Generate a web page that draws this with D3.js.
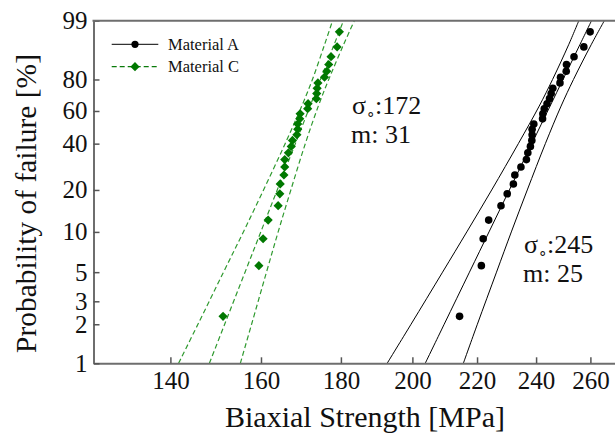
<!DOCTYPE html>
<html>
<head>
<meta charset="utf-8">
<script src="https://cdn.jsdelivr.net/npm/d3@7"></script>
<style>
  body { margin: 0; background: #fff; }
  svg { display: block; font-family: "Liberation Serif", serif; }
</style>
</head>
<body>
<div id="chart-area"></div>
<script>
// probability of failure (%) for each ranked specimen
var probs = [2.3, 5.6, 8.9, 12.2, 15.5, 18.8, 22.0, 25.3, 28.6, 31.9, 35.2, 38.5, 41.8, 45.1, 48.4,
             51.6, 54.9, 58.2, 61.5, 64.8, 68.1, 71.4, 74.7, 78.0, 81.3, 84.5, 87.8, 91.1, 94.4, 97.7];

// biaxial strength (MPa)
var strengthA = [214.4, 221.4, 222.0, 223.8, 227.9, 230.0, 232.1, 232.6, 234.7, 236.6, 237.1, 238.0, 238.5, 238.6, 238.6,
                 239.2, 242.3, 242.4, 242.9, 243.9, 244.8, 245.4, 246.0, 248.6, 248.8, 250.9, 251.0, 253.8, 257.5, 259.9];
var strengthC = [151.3, 159.5, 160.5, 161.7, 164.1, 164.5, 164.6, 165.5, 165.7, 165.7, 166.6, 167.3, 167.6, 168.7, 168.9,
                 168.9, 169.4, 169.5, 171.4, 171.5, 173.6, 173.7, 173.8, 174.0, 175.7, 176.3, 176.8, 177.4, 179.0, 179.6];

// weibull fit parameters
var sigma0A = 245, mA = 25;
var sigma0C = 172, mC = 31;

// confidence bounds read at these probabilities
var boundP = [1, 2, 5, 10, 20, 40, 63.2, 80, 95, 99];
var aLower = [192.7, 199.6, 209.1, 216.7, 224.8, 233.8, 241.1, 245.9, 251.8, 255.6];
var aUpper = [215.6, 220.1, 226.4, 231.4, 236.9, 243.3, 249.0, 253.6, 260.3, 265.4];
var cLower = [141.7, 145.8, 151.4, 155.9, 160.6, 165.8, 169.9, 172.6, 175.7, 177.8];
var cUpper = [155.2, 157.8, 161.3, 164.1, 167.2, 170.8, 174.1, 176.8, 180.7, 183.6];

var xTicks = [140, 160, 180, 200, 220, 240, 260];
var yTicks = [1, 2, 3, 5, 10, 20, 40, 60, 80, 99];

var svgWidth = 615, svgHeight = 438;
var plotLeft = 93.5, plotTop = 20.7, plotBottom = 363.3;

var svg = d3.select("#chart-area").append("svg")
  .attr("width", svgWidth)
  .attr("height", svgHeight);

// weibull probability transform
function wb(p) { return Math.log(-Math.log(1 - p / 100)); }

var x = d3.scaleLog()
  .domain([125, 270])
  .range([plotLeft, 616]);

var y = d3.scaleLinear()
  .domain([wb(1), wb(99)])
  .range([plotBottom, plotTop]);

svg.append("clipPath").attr("id", "clip")
  .append("rect")
  .attr("x", plotLeft).attr("y", plotTop)
  .attr("width", svgWidth - plotLeft).attr("height", plotBottom - plotTop);

var plot = svg.append("g").attr("clip-path", "url(#clip)");

var line = d3.line()
  .x(d => x(d[0]))
  .y(d => y(wb(d[1])))
  .curve(d3.curveCatmullRom);

function fitLine(s0, m) {
  return boundP.map(p => [s0 * Math.pow(-Math.log(1 - p / 100), 1 / m), p]);
}

var green = "#2f9a2f";

// Material A lines
[aLower, aUpper].forEach(function(b) {
  plot.append("path")
    .datum(boundP.map((p, i) => [b[i], p]))
    .attr("d", line)
    .attr("fill", "none")
    .attr("stroke", "#000")
    .attr("stroke-width", 1);
});
plot.append("path")
  .datum(fitLine(sigma0A, mA))
  .attr("d", line)
  .attr("fill", "none")
  .attr("stroke", "#000")
  .attr("stroke-width", 1);

// Material C lines
[cLower, cUpper].forEach(function(b) {
  plot.append("path")
    .datum(boundP.map((p, i) => [b[i], p]))
    .attr("d", line)
    .attr("fill", "none")
    .attr("stroke", green)
    .attr("stroke-width", 1.2)
    .attr("stroke-dasharray", "5,3");
});
plot.append("path")
  .datum(fitLine(sigma0C, mC))
  .attr("d", line)
  .attr("fill", "none")
  .attr("stroke", green)
  .attr("stroke-width", 1.2)
  .attr("stroke-dasharray", "5,3");

// points
plot.selectAll(".ptA")
  .data(strengthA)
  .enter()
  .append("circle")
  .attr("class", "ptA")
  .attr("cx", d => x(d))
  .attr("cy", (d, i) => y(wb(probs[i])))
  .attr("r", 3.8)
  .attr("fill", "#000");

var diamond = d3.symbol().type(d3.symbolDiamond2).size(54);

plot.selectAll(".ptC")
  .data(strengthC)
  .enter()
  .append("path")
  .attr("class", "ptC")
  .attr("d", diamond)
  .attr("transform", (d, i) => "translate(" + x(d) + "," + y(wb(probs[i])) + ")")
  .attr("fill", "#007800");

// axes
var axisColor = "#6e6e6e";

var xAxis = svg.append("g")
  .attr("transform", "translate(0," + plotBottom + ")")
  .call(d3.axisBottom(x)
    .tickValues(xTicks)
    .tickFormat(d3.format("d"))
    .tickSizeInner(-6)
    .tickSizeOuter(0)
    .tickPadding(8));

var yAxis = svg.append("g")
  .attr("transform", "translate(" + plotLeft + ",0)")
  .call(d3.axisLeft(y)
    .tickValues(yTicks.map(wb))
    .tickFormat((d, i) => yTicks[i])
    .tickSizeInner(-6)
    .tickSizeOuter(0)
    .tickPadding(6));

[xAxis, yAxis].forEach(function(g) {
  g.select(".domain").attr("stroke", axisColor).attr("stroke-width", 2);
  g.selectAll(".tick line").attr("stroke", "#555").attr("stroke-width", 1.5);
  g.selectAll(".tick text")
    .attr("fill", "#111")
    .attr("font-family", "Liberation Serif")
    .attr("font-size", 25);
});

// top frame
svg.append("line")
  .attr("x1", plotLeft - 1).attr("x2", svgWidth)
  .attr("y1", plotTop).attr("y2", plotTop)
  .attr("stroke", axisColor)
  .attr("stroke-width", 2);

// axis titles
svg.append("text")
  .attr("x", 365)
  .attr("y", 427)
  .attr("text-anchor", "middle")
  .attr("font-size", 30)
  .attr("fill", "#111")
  .text("Biaxial Strength [MPa]");

svg.append("text")
  .attr("transform", "translate(35.5,203.5) rotate(-90)")
  .attr("text-anchor", "middle")
  .attr("font-size", 29.5)
  .attr("fill", "#111")
  .text("Probability of failure [%]");

// annotations
function annotate(px, py, s0, m) {
  var t = svg.append("text")
    .attr("x", px)
    .attr("y", py)
    .attr("font-size", 26)
    .attr("fill", "#111");
  t.append("tspan").text("σ");
  t.append("tspan").attr("font-size", 15).attr("dy", 5).text("∘");
  t.append("tspan").attr("dy", -5).text(":" + s0);

  svg.append("text")
    .attr("x", px - 1)
    .attr("y", py + 29)
    .attr("font-size", 26)
    .attr("fill", "#111")
    .text("m: " + m);
}

annotate(352, 114, sigma0C, mC);
annotate(524, 253, sigma0A, mA);

// legend
var legend = svg.append("g");

legend.append("line")
  .attr("x1", 111.7).attr("x2", 158.3)
  .attr("y1", 44.3).attr("y2", 44.3)
  .attr("stroke", "#000")
  .attr("stroke-width", 1);
legend.append("circle")
  .attr("cx", 135).attr("cy", 44.3).attr("r", 3.6)
  .attr("fill", "#000");
legend.append("text")
  .attr("x", 168).attr("y", 50)
  .attr("font-size", 16.5)
  .attr("fill", "#111")
  .text("Material A");

legend.append("line")
  .attr("x1", 111.7).attr("x2", 158.3)
  .attr("y1", 66.7).attr("y2", 66.7)
  .attr("stroke", "#0a7a0a")
  .attr("stroke-width", 1.2)
  .attr("stroke-dasharray", "5,3");
legend.append("path")
  .attr("d", diamond)
  .attr("transform", "translate(135,66.7)")
  .attr("fill", "#007800");
legend.append("text")
  .attr("x", 168).attr("y", 72.4)
  .attr("font-size", 16.5)
  .attr("fill", "#111")
  .text("Material C");
</script>
</body>
</html>
